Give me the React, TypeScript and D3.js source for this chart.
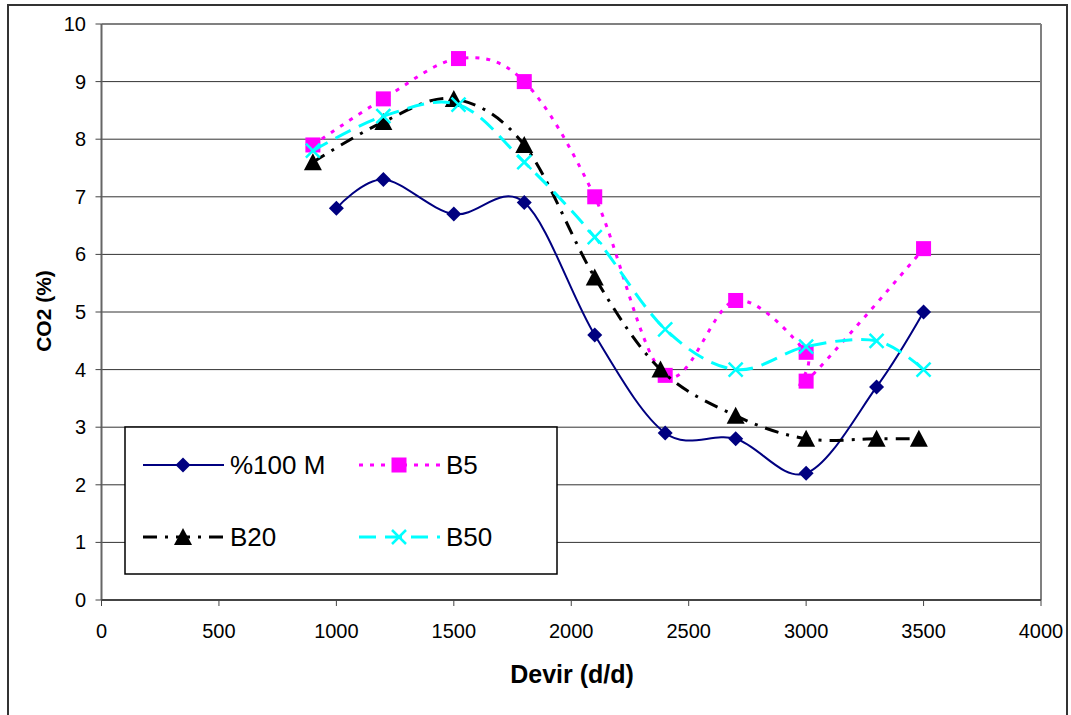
import React from "react";
import * as d3 from "d3";

const xTicks = [0, 500, 1000, 1500, 2000, 2500, 3000, 3500, 4000];
const yTicks = [0, 1, 2, 3, 4, 5, 6, 7, 8, 9, 10];

const m100X = [1000, 1200, 1500, 1800, 2100, 2400, 2700, 3000, 3300, 3500];
const m100Y = [6.8, 7.3, 6.7, 6.9, 4.6, 2.9, 2.8, 2.2, 3.7, 5.0];

const b5X = [900, 1200, 1520, 1800, 2100, 2400, 2700, 3000, 3000, 3500];
const b5Y = [7.9, 8.7, 9.4, 9.0, 7.0, 3.9, 5.2, 4.3, 3.8, 6.1];

const b20X = [900, 1200, 1500, 1800, 2100, 2380, 2700, 3000, 3300, 3480];
const b20Y = [7.6, 8.3, 8.7, 7.9, 5.6, 4.0, 3.2, 2.8, 2.8, 2.8];

const b50X = [900, 1200, 1520, 1800, 2100, 2400, 2700, 3000, 3300, 3500];
const b50Y = [7.8, 8.4, 8.6, 7.6, 6.3, 4.7, 4.0, 4.4, 4.5, 4.0];

const seriesNames = ["%100 M", "B5", "B20", "B50"];

const W = 1071;
const H = 715;
const left = 101.5;
const right = 1041;
const top = 24;
const bottom = 600;

const x = d3.scaleLinear().domain([0, 4000]).range([left, right]);
const y = d3.scaleLinear().domain([0, 10]).range([bottom, top]);

type Series = {
  name: string;
  xs: number[];
  ys: number[];
  color: string;
  dash: string;
  width: number;
  marker: "diamond" | "square" | "triangle" | "x";
};

const series: Series[] = [
  { name: seriesNames[0], xs: m100X, ys: m100Y, color: "#000080", dash: "", width: 2, marker: "diamond" },
  { name: seriesNames[1], xs: b5X, ys: b5Y, color: "#FF00FF", dash: "4,7", width: 3, marker: "square" },
  { name: seriesNames[2], xs: b20X, ys: b20Y, color: "#000000", dash: "14,8,3,8", width: 3, marker: "triangle" },
  { name: seriesNames[3], xs: b50X, ys: b50Y, color: "#00FFFF", dash: "17,9", width: 3, marker: "x" },
];

function Marker({ type, cx, cy, color }: { type: string; cx: number; cy: number; color: string }) {
  if (type === "diamond") {
    const r = 7.5;
    return <path d={`M${cx},${cy - r}L${cx + r},${cy}L${cx},${cy + r}L${cx - r},${cy}Z`} fill={color} />;
  }
  if (type === "square") {
    const s = 7.5;
    return <rect x={cx - s} y={cy - s} width={2 * s} height={2 * s} fill={color} />;
  }
  if (type === "triangle") {
    const r = 9;
    return <path d={`M${cx},${cy - r}L${cx + r},${cy + r - 1}L${cx - r},${cy + r - 1}Z`} fill={color} />;
  }
  const r = 7;
  return (
    <path
      d={`M${cx - r},${cy - r}L${cx + r},${cy + r}M${cx - r},${cy + r}L${cx + r},${cy - r}`}
      stroke={color}
      strokeWidth={2.5}
      fill="none"
    />
  );
}

export default function App() {
  const line = d3
    .line<[number, number]>()
    .x((d) => x(d[0]))
    .y((d) => y(d[1]))
    .curve(d3.curveCardinal.tension(0));

  const legendItems = [
    { s: series[0], lx: 143, ly: 465 },
    { s: series[1], lx: 359, ly: 465 },
    { s: series[2], lx: 143, ly: 537 },
    { s: series[3], lx: 359, ly: 537 },
  ];

  return (
    <svg
      width={W}
      height={H}
      style={{ position: "absolute", left: 0, top: 0, fontFamily: "Liberation Sans, Arial, sans-serif" }}
    >
      <rect x={0} y={0} width={W} height={H} fill="#fff" />
      <rect x={8} y={5} width={1059} height={715} fill="none" stroke="#333" strokeWidth={2} />

      {yTicks.map((t) => (
        <line
          key={"g" + t}
          x1={left}
          x2={right}
          y1={y(t)}
          y2={y(t)}
          stroke={t === 10 ? "#808080" : "#333"}
          strokeWidth={t === 10 ? 2 : 1}
        />
      ))}
      <line x1={right} x2={right} y1={top} y2={bottom} stroke="#808080" strokeWidth={2} />

      <line x1={left} x2={left} y1={top} y2={bottom} stroke="#666" strokeWidth={2} />
      <line x1={left} x2={right} y1={bottom} y2={bottom} stroke="#444" strokeWidth={2} />
      {yTicks.map((t) => (
        <g key={"yt" + t}>
          <line x1={left - 6} x2={left} y1={y(t)} y2={y(t)} stroke="#444" strokeWidth={1} />
          <text x={86} y={y(t) + 7} textAnchor="end" fontSize={20} fill="#000">
            {t}
          </text>
        </g>
      ))}
      {xTicks.map((t) => (
        <g key={"xt" + t}>
          <line x1={x(t)} x2={x(t)} y1={bottom} y2={bottom + 6} stroke="#444" strokeWidth={1} />
          <text x={x(t)} y={638} textAnchor="middle" fontSize={20} fill="#000">
            {t}
          </text>
        </g>
      ))}

      <text x={572} y={683} textAnchor="middle" fontSize={25} fontWeight="bold">
        Devir (d/d)
      </text>
      <text transform={`translate(51,311) rotate(-90)`} textAnchor="middle" fontSize={21} fontWeight="bold">
        CO2 (%)
      </text>

      {series.map((s) => {
        const pts = s.xs.map((v, i) => [v, s.ys[i]] as [number, number]);
        return (
          <g key={s.name}>
            <path
              d={line(pts) || ""}
              fill="none"
              stroke={s.color}
              strokeWidth={s.width}
              strokeDasharray={s.dash || undefined}
            />
            {pts.map((p, i) => (
              <Marker key={i} type={s.marker} cx={x(p[0])} cy={y(p[1])} color={s.color} />
            ))}
          </g>
        );
      })}

      <rect x={125} y={427} width={432} height={147} fill="#fff" stroke="#000" strokeWidth={1.5} />
      {legendItems.map(({ s, lx, ly }) => (
        <g key={"lg" + s.name}>
          <line
            x1={lx}
            x2={lx + 81}
            y1={ly}
            y2={ly}
            stroke={s.color}
            strokeWidth={s.width}
            strokeDasharray={s.dash || undefined}
          />
          <Marker type={s.marker} cx={lx + 40} cy={ly} color={s.color} />
          <text x={lx + 87} y={ly + 9} fontSize={26} fill="#000">
            {s.name}
          </text>
        </g>
      ))}
    </svg>
  );
}
